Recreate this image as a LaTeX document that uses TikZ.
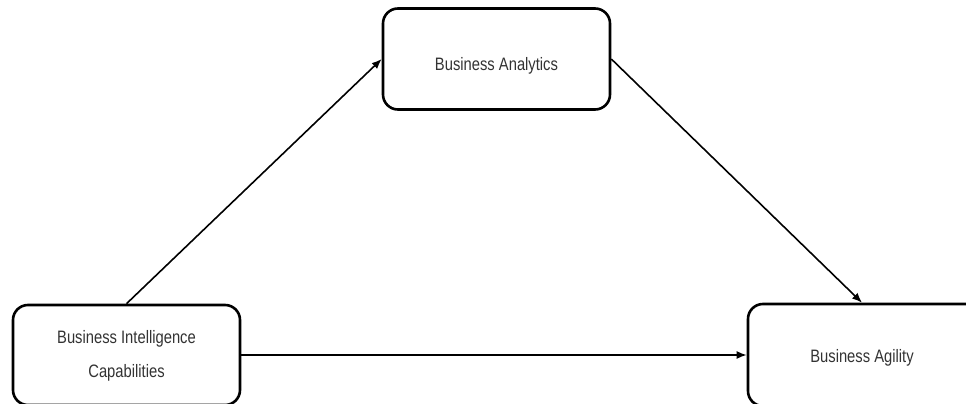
\documentclass[tikz,border=0pt]{standalone}
\usepackage{fontspec}
\setmainfont{Liberation Sans}[FakeStretch=0.82]
\usetikzlibrary{arrows.meta}
\tikzset{
  boxnode/.style={draw=black, line width=2.6pt, rounded corners=15pt, fill=white,
    inner sep=0pt, align=center, text=black!80,
    font=\fontsize{18}{35}\selectfont},
  conn/.style={line width=1.6pt, -{Latex[length=10pt,width=8pt]}}
}
\begin{document}
\begin{tikzpicture}[x=1pt,y=-1pt]
\useasboundingbox (0,0) rectangle (966,404);
\clip (0,0) rectangle (966,404);
\fill[white] (0,0) rectangle (966,404);
\node[boxnode, minimum width=227pt, minimum height=101pt] (ba) at (496.5,59) {\raisebox{-7pt}[\height][\depth]{Business Analytics}};
\node[boxnode, minimum width=227pt, minimum height=100pt] (bic) at (126.5,355) {\raisebox{-1pt}[\height][\depth]{Business Intelligence}\\Capabilities};
\node[boxnode, minimum width=240pt, minimum height=102pt] (bag) at (868,355) {\hspace*{-12pt}\raisebox{-3pt}[\height][\depth]{Business Agility}};
\draw[conn] (bic.north) -- (ba.west);
\draw[conn] (ba.east) -- ([xshift=-6pt]bag.north);
\draw[conn] (bic.east) -- (bag.west);
\end{tikzpicture}
\end{document}
